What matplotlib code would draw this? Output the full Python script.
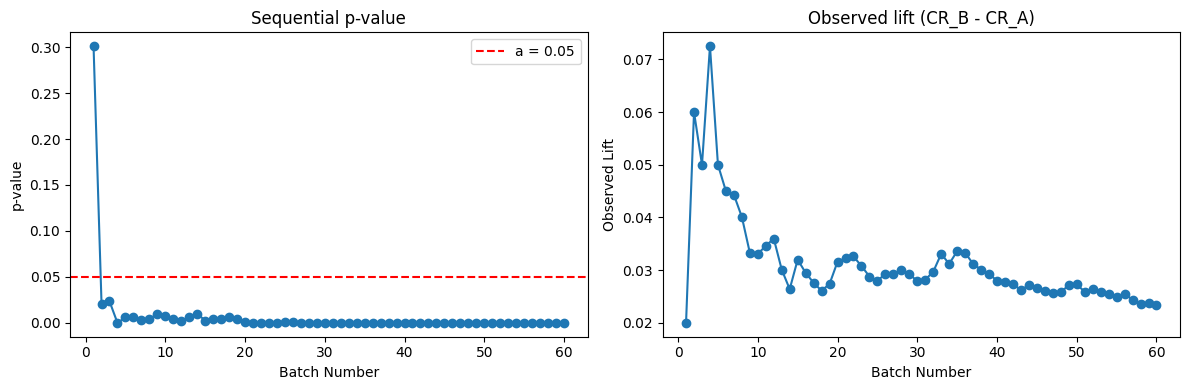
import matplotlib
matplotlib.use("Agg")
import matplotlib.pyplot as plt

batches = list(range(1, 61))
p_values = [0.301, 0.021, 0.0235, 0.000, 0.006, 0.006, 0.003, 0.004, 0.010, 0.008,
            0.004, 0.002, 0.0065, 0.010, 0.0025, 0.004, 0.0045, 0.006, 0.004, 0.0015,
            0.000, 0.000, 0.000, 0.000, 0.001, 0.001, 0.000, 0.000, 0.000, 0.000,
            0.000, 0.000, 0.000, 0.000, 0.000, 0.000, 0.000, 0.000, 0.000, 0.000,
            0.000, 0.000, 0.000, 0.000, 0.000, 0.000, 0.000, 0.000, 0.000, 0.000,
            0.000, 0.000, 0.000, 0.000, 0.000, 0.000, 0.000, 0.000, 0.000, 0.000]
lifts = [0.0200, 0.0600, 0.0500, 0.0725, 0.0500, 0.0450, 0.0443, 0.0401, 0.0333, 0.0331,
         0.0346, 0.0360, 0.0301, 0.0264, 0.0320, 0.0295, 0.0276, 0.0261, 0.0274, 0.0316,
         0.0323, 0.0326, 0.0308, 0.0288, 0.0280, 0.0293, 0.0293, 0.0301, 0.0293, 0.0279,
         0.0282, 0.0297, 0.0331, 0.0312, 0.0336, 0.0333, 0.0312, 0.0301, 0.0293, 0.0280,
         0.0278, 0.0274, 0.0262, 0.0272, 0.0266, 0.0261, 0.0257, 0.0259, 0.0271, 0.0273,
         0.0259, 0.0265, 0.0259, 0.0255, 0.0250, 0.0255, 0.0244, 0.0236, 0.0238, 0.0234]
alpha = 0.05

fig, (ax1, ax2) = plt.subplots(1, 2, figsize=(12, 4), dpi=100)

ax1.plot(batches, p_values, marker='o')
ax1.axhline(alpha, color='red', linestyle='--', label=f'a = {alpha}')
ax1.set_title('Sequential p-value')
ax1.set_xlabel('Batch Number')
ax1.set_ylabel('p-value')
ax1.legend()

ax2.plot(batches, lifts, marker='o')
ax2.set_title('Observed lift (CR_B - CR_A)')
ax2.set_xlabel('Batch Number')
ax2.set_ylabel('Observed Lift')

fig.tight_layout()
fig.savefig('out.png', bbox_inches='tight')
